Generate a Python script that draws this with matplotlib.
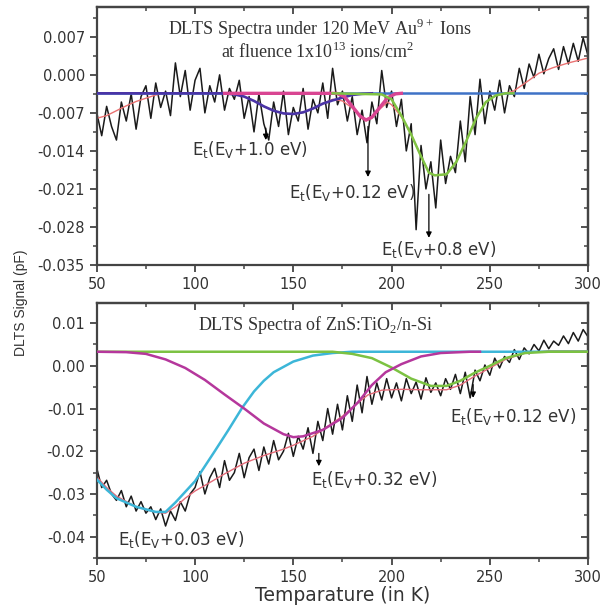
"""DLTS spectra, two stacked panels"""

import matplotlib
matplotlib.use('Agg')
import matplotlib.pyplot as plt
from matplotlib.ticker import MultipleLocator, FormatStrFormatter


###Data
temp = [50 + 2.5 * i for i in range(101)]

top_signal = [
    -0.0070, -0.0112, -0.0058, -0.0095, -0.0120, -0.0050, -0.0085, -0.0035, -0.0100, -0.0040,
    -0.0020, -0.0080, -0.0015, -0.0060, -0.0030, -0.0075, 0.0022, -0.0040, 0.0008, -0.0065,
    -0.0010, 0.0012, -0.0070, -0.0020, -0.0050, 0.0000, -0.0065, -0.0025, -0.0045, -0.0010,
    -0.0080, -0.0040, -0.0105, -0.0035, -0.0090, -0.0120, -0.0050, -0.0095, -0.0030, -0.0110,
    -0.0060, -0.0085, -0.0025, -0.0100, -0.0045, -0.0070, -0.0015, -0.0080, 0.0012, -0.0055,
    -0.0030, -0.0085, -0.0040, -0.0110, -0.0065, -0.0125, -0.0050, -0.0090, 0.0008, -0.0060,
    -0.0030, -0.0095, -0.0045, -0.0140, -0.0090, -0.0285, -0.0130, -0.0210, -0.0160, -0.0245,
    -0.0120, -0.0200, -0.0150, -0.0180, -0.0085, -0.0160, -0.0040, -0.0110, -0.0008, -0.0090,
    -0.0030, -0.0065, -0.0010, -0.0070, -0.0020, -0.0040, 0.0012, -0.0025, 0.0020, -0.0005,
    0.0038, 0.0002, 0.0030, 0.0048, 0.0010, 0.0052, 0.0020, 0.0058, 0.0025, 0.0068,
    0.0035,
]

top_fit_t = [50, 55, 60, 65, 70, 75, 80, 85, 115, 120, 125, 130, 135, 140, 145, 150, 155, 160,
             165, 170, 175, 180, 184, 187, 190, 194, 198, 200, 205, 210, 215, 219, 222, 228,
             233, 238, 243, 248, 253, 258, 262, 268, 275, 282, 290, 300]
top_fit = [-0.0080, -0.0075, -0.0066, -0.0057, -0.0049, -0.0043, -0.0037, -0.0034, -0.0034,
           -0.0036, -0.0040, -0.0048, -0.0058, -0.0066, -0.0071, -0.0072, -0.0069, -0.0062,
           -0.0053, -0.0045, -0.0048, -0.0061, -0.0078, -0.0085, -0.0080, -0.0063, -0.0050,
           -0.0055, -0.0077, -0.0110, -0.0150, -0.0180, -0.0185, -0.0183, -0.0160, -0.0122,
           -0.0080, -0.0050, -0.0038, -0.0034, -0.0030, -0.0015, 0.0003, 0.0013, 0.0022, 0.0031]

top_base_t = [50, 300]
top_base = [-0.0034, -0.0034]

peak1_t = [50, 115, 120, 125, 130, 135, 140, 145, 150, 155, 160, 165, 170, 175, 180, 185, 190]
peak1 = [-0.0034, -0.0034, -0.0036, -0.0040, -0.0048, -0.0058, -0.0066, -0.0071, -0.0072,
         -0.0069, -0.0062, -0.0053, -0.0047, -0.0042, -0.0037, -0.0035, -0.0034]

peak2_t = [115, 172, 176, 180, 184, 187, 190, 194, 198, 202, 205]
peak2 = [-0.0034, -0.0034, -0.0040, -0.0058, -0.0076, -0.0083, -0.0078, -0.0060, -0.0042,
         -0.0035, -0.0034]

peak3_t = [170, 195, 200, 205, 210, 215, 219, 222, 228, 233, 238, 243, 248, 253, 258, 262]
peak3 = [-0.0034, -0.0036, -0.0045, -0.0075, -0.0110, -0.0150, -0.0180, -0.0185, -0.0183,
         -0.0160, -0.0122, -0.0080, -0.0050, -0.0038, -0.0034, -0.0034]

bot_signal = [
    -0.0240, -0.0285, -0.0268, -0.0300, -0.0315, -0.0292, -0.0330, -0.0305, -0.0340, -0.0318,
    -0.0345, -0.0330, -0.0360, -0.0335, -0.0375, -0.0340, -0.0362, -0.0318, -0.0340, -0.0300,
    -0.0285, -0.0248, -0.0300, -0.0262, -0.0240, -0.0285, -0.0222, -0.0268, -0.0250, -0.0205,
    -0.0262, -0.0215, -0.0195, -0.0245, -0.0190, -0.0230, -0.0175, -0.0220, -0.0200, -0.0158,
    -0.0212, -0.0165, -0.0195, -0.0145, -0.0205, -0.0130, -0.0175, -0.0100, -0.0160, -0.0090,
    -0.0150, -0.0070, -0.0130, -0.0045, -0.0110, -0.0025, -0.0090, -0.0040, -0.0080, -0.0030,
    -0.0075, -0.0040, -0.0082, -0.0030, -0.0065, -0.0038, -0.0078, -0.0028, -0.0062, -0.0040,
    -0.0070, -0.0030, -0.0055, -0.0020, -0.0065, -0.0015, -0.0075, -0.0010, -0.0035, 0.0002,
    -0.0022, 0.0018, -0.0005, 0.0022, 0.0008, 0.0038, 0.0015, 0.0042, 0.0028, 0.0050,
    0.0035, 0.0060, 0.0040, 0.0058, 0.0048, 0.0070, 0.0052, 0.0078, 0.0058, 0.0085,
    0.0068,
]

bot_fit_t = [50, 55, 60, 70, 80, 85, 90, 95, 100, 105, 115, 125, 135, 145, 150, 160, 168, 175,
             182, 188, 195, 205, 215, 228, 235, 242, 250, 258, 268, 280, 300]
bot_fit = [-0.0260, -0.0285, -0.0305, -0.0330, -0.0343, -0.0345, -0.0330, -0.0310, -0.0293,
           -0.0280, -0.0253, -0.0228, -0.0210, -0.0195, -0.0186, -0.0165, -0.0140, -0.0118,
           -0.0090, -0.0068, -0.0057, -0.0055, -0.0056, -0.0056, -0.0045, -0.0025, -0.0005,
           0.0015, 0.0030, 0.0035, 0.0035]

trap1_t = [50, 55, 60, 70, 80, 85, 90, 95, 100, 105, 110, 117, 124, 130, 135, 140, 150, 160,
           170, 180, 300]
trap1 = [-0.0266, -0.0290, -0.0310, -0.0330, -0.0342, -0.0342, -0.0320, -0.0295, -0.0270,
         -0.0235, -0.0200, -0.0150, -0.0098, -0.0060, -0.0035, -0.0015, 0.0010, 0.0024, 0.0030,
         0.0033, 0.0033]

trap2_t = [50, 65, 75, 85, 95, 105, 115, 125, 135, 145, 150, 155, 165, 175, 183, 190, 197, 205,
           215, 225, 240, 245]
trap2 = [0.0033, 0.0032, 0.0028, 0.0015, -0.0005, -0.0033, -0.0067, -0.0100, -0.0135, -0.0160,
         -0.0167, -0.0165, -0.0150, -0.0122, -0.0085, -0.0045, -0.0015, 0.0004, 0.0022, 0.0030,
         0.0033, 0.0033]

trap3_t = [50, 170, 180, 190, 200, 210, 220, 228, 235, 242, 250, 258, 268, 280, 300]
trap3 = [0.0033, 0.0033, 0.0028, 0.0018, -0.0004, -0.0030, -0.0047, -0.0047, -0.0035, -0.0017,
         0.0000, 0.0018, 0.0030, 0.0033, 0.0033]

top_yticks = [0.007, 0.000, -0.007, -0.014, -0.021, -0.028, -0.035]
bot_yticks = [0.01, 0.00, -0.01, -0.02, -0.03, -0.04]
xticks = [50, 100, 150, 200, 250, 300]
###Data end


###Adjustments
fig_size = (6.05, 6.10)
dpi = 100
tick_size = 10.5
note_size = 12
title_size = 13
spine_color = '#444444'
text_color = '#333333'
###Adjustments end


def style_axes(ax, yticks, ymin, ymax, yfmt, yminor):
    ax.set_xlim(50, 300)
    ax.set_ylim(ymin, ymax)
    ax.set_xticks(xticks)
    ax.set_yticks(yticks)
    ax.xaxis.set_minor_locator(MultipleLocator(25))
    ax.yaxis.set_minor_locator(MultipleLocator(yminor))
    ax.yaxis.set_major_formatter(FormatStrFormatter(yfmt))
    ax.tick_params(which='major', direction='out', length=5, width=1.3,
                   color=spine_color, labelsize=tick_size, labelcolor=text_color)
    ax.tick_params(which='minor', direction='out', length=3, width=1.1, color=spine_color)
    for side in ax.spines.values():
        side.set_linewidth(1.6)
        side.set_color(spine_color)
    # mirrored ticks pointing inwards on top / right
    top = ax.secondary_xaxis('top')
    top.set_xticks(xticks)
    top.xaxis.set_minor_locator(MultipleLocator(25))
    top.tick_params(which='both', direction='in', labeltop=False, color=spine_color)
    top.tick_params(which='major', length=5, width=1.3)
    top.tick_params(which='minor', length=3, width=1.1)
    right = ax.secondary_yaxis('right')
    right.set_yticks(yticks)
    right.yaxis.set_minor_locator(MultipleLocator(yminor))
    right.tick_params(which='both', direction='in', labelright=False, color=spine_color)
    right.tick_params(which='major', length=5, width=1.3)
    right.tick_params(which='minor', length=3, width=1.1)
    for side in list(top.spines.values()) + list(right.spines.values()):
        side.set_linewidth(1.6)
        side.set_color(spine_color)


def note(ax, label, x, y):
    ax.text(x, y, label, ha='center', va='center', fontsize=note_size, color=text_color)


def arrow(ax, x, y_from, y_to):
    ax.annotate('', xy=(x, y_to), xytext=(x, y_from),
                arrowprops=dict(arrowstyle='-|>', color='black', lw=0.9, mutation_scale=8,
                                shrinkA=0, shrinkB=0))


def title(ax, label, x, y):
    ax.text(x, y, label, transform=ax.transAxes, ha='center', va='center',
            fontsize=title_size, family='Liberation Serif', color=text_color)


fig = plt.figure(figsize=fig_size, dpi=dpi)
ax1 = fig.add_axes([0.160, 0.5656, 0.812, 0.423])
ax2 = fig.add_axes([0.160, 0.0852, 0.812, 0.418])

# top panel
ax1.plot(temp, top_signal, color='#1a1a1a', lw=1.1, zorder=1)
ax1.plot(top_fit_t, top_fit, color='#ea7272', lw=1.0, zorder=2)
ax1.plot(top_base_t, top_base, color='#3f72c6', lw=1.8, zorder=3)
ax1.plot(peak1_t, peak1, color='#4a34a6', lw=1.9, zorder=4)
ax1.plot(peak2_t, peak2, color='#d94592', lw=2.4, zorder=4)
ax1.plot(peak3_t, peak3, color='#80c343', lw=1.8, zorder=4)
style_axes(ax1, top_yticks, -0.035, 0.0125, '%.3f', 0.0035)

title(ax1, r'DLTS Spectra under 120 MeV Au$^\mathregular{9+}$ Ions', 0.455, 0.915)
title(ax1, r'at fluence 1x10$^\mathregular{13}$ ions/cm$^\mathregular{2}$', 0.45, 0.825)

note(ax1, r'E$_\mathregular{t}$(E$_\mathregular{V}$+1.0 eV)', 128, -0.0138)
arrow(ax1, 136, -0.0098, -0.0120)
note(ax1, r'E$_\mathregular{t}$(E$_\mathregular{V}$+0.12 eV)', 180, -0.0217)
arrow(ax1, 188, -0.0095, -0.0188)
note(ax1, r'E$_\mathregular{t}$(E$_\mathregular{V}$+0.8 eV)', 224, -0.0322)
arrow(ax1, 219, -0.0220, -0.0300)

# bottom panel
ax2.plot(temp, bot_signal, color='#1a1a1a', lw=1.1, zorder=1)
ax2.plot(bot_fit_t, bot_fit, color='#e46a78', lw=1.0, zorder=2)
ax2.plot(trap1_t, trap1, color='#3cb6d8', lw=1.8, zorder=3)
ax2.plot(trap3_t, trap3, color='#7cc242', lw=1.8, zorder=4)
ax2.plot(trap2_t, trap2, color='#b5379c', lw=1.8, zorder=5)
style_axes(ax2, bot_yticks, -0.045, 0.0147, '%.2f', 0.005)

title(ax2, r'DLTS Spectra of ZnS:TiO$_\mathregular{2}$/n-Si', 0.445, 0.914)

note(ax2, r'E$_\mathregular{t}$(E$_\mathregular{V}$+0.03 eV)', 93, -0.0407)
note(ax2, r'E$_\mathregular{t}$(E$_\mathregular{V}$+0.32 eV)', 191, -0.0266)
arrow(ax2, 163, -0.0205, -0.0235)
note(ax2, r'E$_\mathregular{t}$(E$_\mathregular{V}$+0.12 eV)', 262, -0.0118)
arrow(ax2, 241.5, -0.0044, -0.0075)

ax2.set_xlabel('Temparature (in K)', fontsize=13.5, color=text_color, labelpad=1)
fig.text(0.035, 0.503, 'DLTS Signal (pF)', rotation=90, ha='center', va='center',
         fontsize=10, family='Liberation Sans', color=text_color)

fig.savefig('out.png', dpi=dpi)
plt.close()
